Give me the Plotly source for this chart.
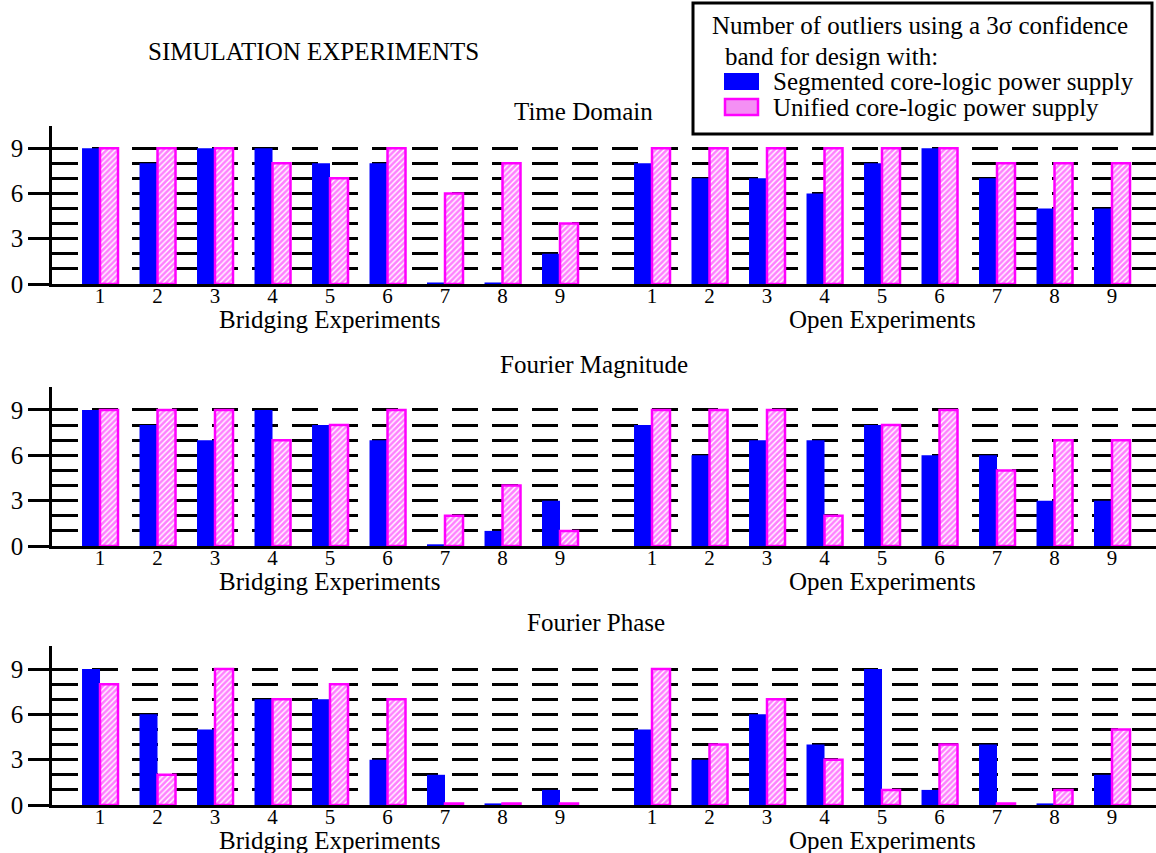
import plotly.graph_objects as go

# ---------------- data ----------------
experiments = ["1", "2", "3", "4", "5", "6", "7", "8", "9"]
groups = ["Bridging Experiments", "Open Experiments"]
panels = ["Time Domain", "Fourier Magnitude", "Fourier Phase"]
series_names = ["Segmented core-logic power supply", "Unified core-logic power supply"]

# Time Domain
td_bridging_segmented = [9, 8, 9, 9, 8, 8, 0.1, 0.1, 2]
td_bridging_unified = [9, 9, 9, 8, 7, 9, 6, 8, 4]
td_open_segmented = [8, 7, 7, 6, 8, 9, 7, 5, 5]
td_open_unified = [9, 9, 9, 9, 9, 9, 8, 8, 8]
# Fourier Magnitude
fm_bridging_segmented = [9, 8, 7, 9, 8, 7, 0.1, 1, 3]
fm_bridging_unified = [9, 9, 9, 7, 8, 9, 2, 4, 1]
fm_open_segmented = [8, 6, 7, 7, 8, 6, 6, 3, 3]
fm_open_unified = [9, 9, 9, 2, 8, 9, 5, 7, 7]
# Fourier Phase
fp_bridging_segmented = [9, 6, 5, 7, 7, 3, 2, 0.1, 1]
fp_bridging_unified = [8, 2, 9, 7, 8, 7, 0.1, 0.1, 0.1]
fp_open_segmented = [5, 3, 6, 4, 9, 1, 4, 0.1, 2]
fp_open_unified = [9, 4, 7, 3, 1, 4, 0.1, 1, 5]

y_tick_values = [0, 3, 6, 9]
y_minor_values = [1, 2, 4, 5, 7, 8]

panel_data = [
    (td_bridging_segmented, td_open_segmented, td_bridging_unified, td_open_unified),
    (fm_bridging_segmented, fm_open_segmented, fm_bridging_unified, fm_open_unified),
    (fp_bridging_segmented, fp_open_segmented, fp_bridging_unified, fp_open_unified),
]

# ---------------- layout helpers ----------------
W, H = 1156, 853
FONT = "Liberation Serif, Times New Roman, serif"
group_offsets = [0.0, 9.6]
positions = [i + 1 + off for off in group_offsets for i in range(len(experiments))]
tick_text = experiments * 2
group_centers = [off + (len(experiments) + 1) / 2 for off in group_offsets]

def fx(px):
    return px / W

def fy(py):
    return 1 - py / H

# pixel positions of each panel: (baseline y, top y)
panel_px = [(284, 125.5), (546, 387.3), (805, 646.4)]
label_y_px = [319, 581, 840]
title_px = [(583, 111), (594, 364), (596, 622)]

BLUE = "#0000FF"
MAG = "#FF00FF"

fig = go.Figure()

for p, (seg_b, seg_o, uni_b, uni_o) in enumerate(panel_data):
    ax = "" if p == 0 else str(p + 1)
    fig.add_trace(go.Bar(
        x=positions, y=seg_b + seg_o, name=series_names[0],
        marker=dict(color=BLUE, line=dict(width=0)),
        xaxis="x" + ax, yaxis="y" + ax, showlegend=False,
    ))
    fig.add_trace(go.Bar(
        x=positions, y=uni_b + uni_o, name=series_names[1],
        marker=dict(color="white", line=dict(color=MAG, width=2.5),
                    pattern=dict(shape="/", fgcolor=MAG, bgcolor="white",
                                 size=4, solidity=0.65)),
        xaxis="x" + ax, yaxis="y" + ax, showlegend=False,
    ))
    base, top = panel_px[p]
    xa = dict(
        domain=[fx(52), 1.0], range=[0.165, 19.365], anchor="y" + ax,
        showline=True, linecolor="black", linewidth=2.5,
        showgrid=False, zeroline=False, ticks="",
        tickmode="array", tickvals=positions, ticktext=tick_text,
        tickfont=dict(family=FONT, size=21, color="black"),
        ticklabelstandoff=-9, automargin=False,
    )
    ya = dict(
        domain=[fy(base), fy(top)], range=[0, 10.5], anchor="x" + ax,
        showline=True, linecolor="black", linewidth=2.5,
        zeroline=False, tickmode="array", tickvals=y_tick_values,
        ticks="outside", ticklen=21, tickwidth=2.5, tickcolor="black",
        tickfont=dict(family=FONT, size=25, color="black"),
        showgrid=True, gridcolor="black", gridwidth=2.5, griddash="26px,14px",
        minor=dict(tickvals=y_minor_values, showgrid=True, gridcolor="black",
                   gridwidth=2.5, griddash="26px,14px", ticks=""),
        automargin=False,
    )
    fig.layout["xaxis" + ax] = xa
    fig.layout["yaxis" + ax] = ya

annotations = []
txt = dict(family=FONT, size=25, color="black")
center = dict(xanchor="center", yanchor="middle", showarrow=False, font=txt)
left = dict(xanchor="left", yanchor="middle", showarrow=False, font=txt)
annotations.append(dict(text="SIMULATION EXPERIMENTS", x=fx(313), y=fy(52),
                        xref="paper", yref="paper", **center))
for p in range(3):
    ax = "" if p == 0 else str(p + 1)
    tx, ty = title_px[p]
    annotations.append(dict(text=panels[p], x=fx(tx), y=fy(ty), xref="paper",
                            yref="paper", **center))
    for g, name in enumerate(groups):
        annotations.append(dict(text=name, x=group_centers[g], y=fy(label_y_px[p]),
                                xref="x" + ax, yref="paper", **center))

# legend (drawn manually)
annotations += [
    dict(text="Number of outliers using a 3\u03c3 confidence", x=fx(710), y=fy(26),
         xref="paper", yref="paper", **left),
    dict(text="band for design with:", x=fx(723), y=fy(56),
         xref="paper", yref="paper", **left),
    dict(text=series_names[0], x=fx(771), y=fy(81),
         xref="paper", yref="paper", **left),
    dict(text=series_names[1], x=fx(771), y=fy(107),
         xref="paper", yref="paper", **left),
]
shapes = [
    dict(type="rect", xref="paper", yref="paper", x0=fx(693), x1=fx(1152),
         y0=fy(134), y1=fy(3), line=dict(color="black", width=3), fillcolor="white"),
    dict(type="rect", xref="paper", yref="paper", x0=fx(724), x1=fx(759),
         y0=fy(90), y1=fy(73), line=dict(width=0), fillcolor=BLUE),
    dict(type="rect", xref="paper", yref="paper", x0=fx(725), x1=fx(758),
         y0=fy(115), y1=fy(99), line=dict(color=MAG, width=2.5), fillcolor="#F490F4"),
]

fig.update_layout(
    width=W, height=H,
    margin=dict(l=0, r=0, t=0, b=0, autoexpand=False),
    paper_bgcolor="white", plot_bgcolor="white",
    barmode="group", bargap=0.374, bargroupgap=0,
    showlegend=False, annotations=annotations, shapes=shapes,
    font=dict(family=FONT, color="black"),
)

fig.write_html("out.html", config={"displayModeBar": False},
               post_script="document.body.style.margin='0';")
